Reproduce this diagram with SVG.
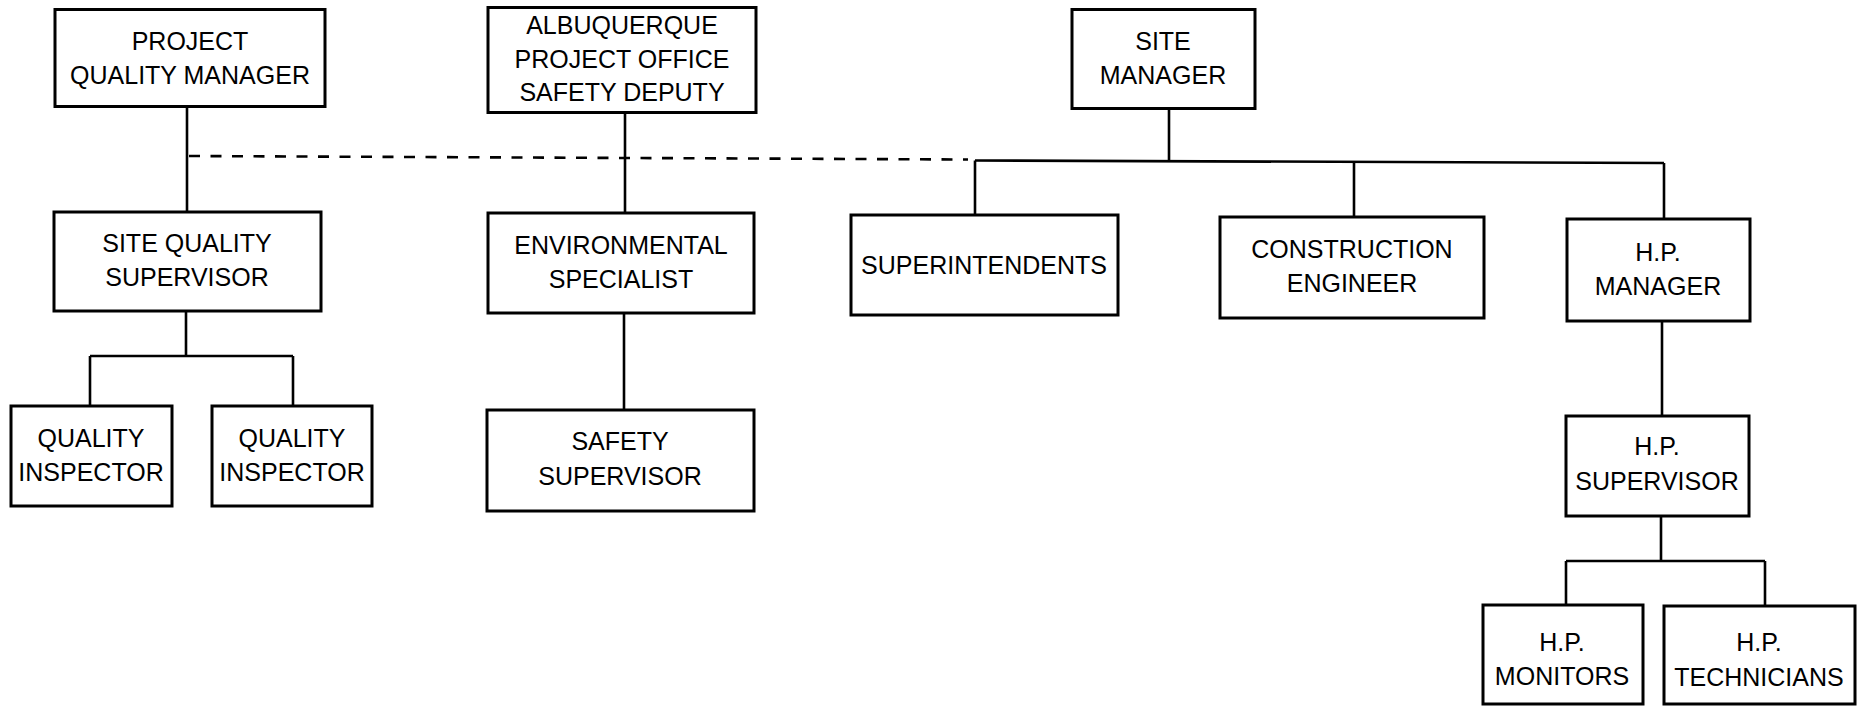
<svg xmlns="http://www.w3.org/2000/svg" width="1865" height="706" viewBox="0 0 1865 706">
<style>
.box{fill:#fff;stroke:#000;stroke-width:3}
.ln{fill:none;stroke:#000;stroke-width:2.6}
.dash{fill:none;stroke:#000;stroke-width:2.6;stroke-dasharray:11 10.5}
text{font-family:"Liberation Sans",Arial,Helvetica,sans-serif;font-size:25px;fill:#000;text-anchor:middle}
</style>
<rect width="1865" height="706" fill="#fff"/>
<g id="connectors">
<path class="ln" d="M187 107 V212"/>
<path class="dash" d="M189 156 L968 159.5"/>
<path class="ln" d="M625 113 V213"/>
<path class="ln" d="M186 311 V356 M90 356 H293 M90 356 V406 M293 356 V406"/>
<path class="ln" d="M624 313 V410"/>
<path class="ln" d="M1169 108 V161"/>
<path class="ln" d="M975 160.5 L1664 163"/>
<path class="ln" d="M975 160.5 V215 M1354 162 V217 M1664 163 V219"/>
<path class="ln" d="M1662 322 V416"/>
<path class="ln" d="M1661 516 V561 M1566 561 H1765 M1566 561 V605 M1765 561 V606"/>
</g>
<g id="project-quality-manager">
<rect class="box" x="55" y="9.5" width="270" height="97"/>
<text x="190" y="49.5">PROJECT</text>
<text x="190" y="84">QUALITY MANAGER</text>
</g>
<g id="albuquerque-safety-deputy">
<rect class="box" x="488" y="7.5" width="268" height="105"/>
<text x="622" y="34">ALBUQUERQUE</text>
<text x="622" y="68">PROJECT OFFICE</text>
<text x="622" y="101">SAFETY DEPUTY</text>
</g>
<g id="site-manager">
<rect class="box" x="1072" y="9.5" width="183" height="99"/>
<text x="1163" y="50">SITE</text>
<text x="1163" y="84">MANAGER</text>
</g>
<g id="site-quality-supervisor">
<rect class="box" x="54" y="212" width="267" height="99"/>
<text x="187" y="252">SITE QUALITY</text>
<text x="187" y="286">SUPERVISOR</text>
</g>
<g id="environmental-specialist">
<rect class="box" x="488" y="213" width="266" height="100"/>
<text x="621" y="254">ENVIRONMENTAL</text>
<text x="621" y="288">SPECIALIST</text>
</g>
<g id="superintendents">
<rect class="box" x="851" y="215" width="267" height="100"/>
<text x="984" y="274">SUPERINTENDENTS</text>
</g>
<g id="construction-engineer">
<rect class="box" x="1220" y="217" width="264" height="101"/>
<text x="1352" y="258">CONSTRUCTION</text>
<text x="1352" y="292">ENGINEER</text>
</g>
<g id="hp-manager">
<rect class="box" x="1567" y="219" width="183" height="102"/>
<text x="1658" y="261">H.P.</text>
<text x="1658" y="295">MANAGER</text>
</g>
<g id="quality-inspector-1">
<rect class="box" x="11" y="406" width="161" height="100"/>
<text x="91" y="447">QUALITY</text>
<text x="91" y="481">INSPECTOR</text>
</g>
<g id="quality-inspector-2">
<rect class="box" x="212" y="406" width="160" height="100"/>
<text x="292" y="447">QUALITY</text>
<text x="292" y="481">INSPECTOR</text>
</g>
<g id="safety-supervisor">
<rect class="box" x="487" y="410" width="267" height="101"/>
<text x="620" y="450">SAFETY</text>
<text x="620" y="485">SUPERVISOR</text>
</g>
<g id="hp-supervisor">
<rect class="box" x="1566" y="416" width="183" height="100"/>
<text x="1657" y="455">H.P.</text>
<text x="1657" y="490">SUPERVISOR</text>
</g>
<g id="hp-monitors">
<rect class="box" x="1483" y="605" width="160" height="99"/>
<text x="1562" y="651">H.P.</text>
<text x="1562" y="685">MONITORS</text>
</g>
<g id="hp-technicians">
<rect class="box" x="1664" y="606" width="191" height="98"/>
<text x="1759" y="651">H.P.</text>
<text x="1759" y="686">TECHNICIANS</text>
</g>
</svg>
